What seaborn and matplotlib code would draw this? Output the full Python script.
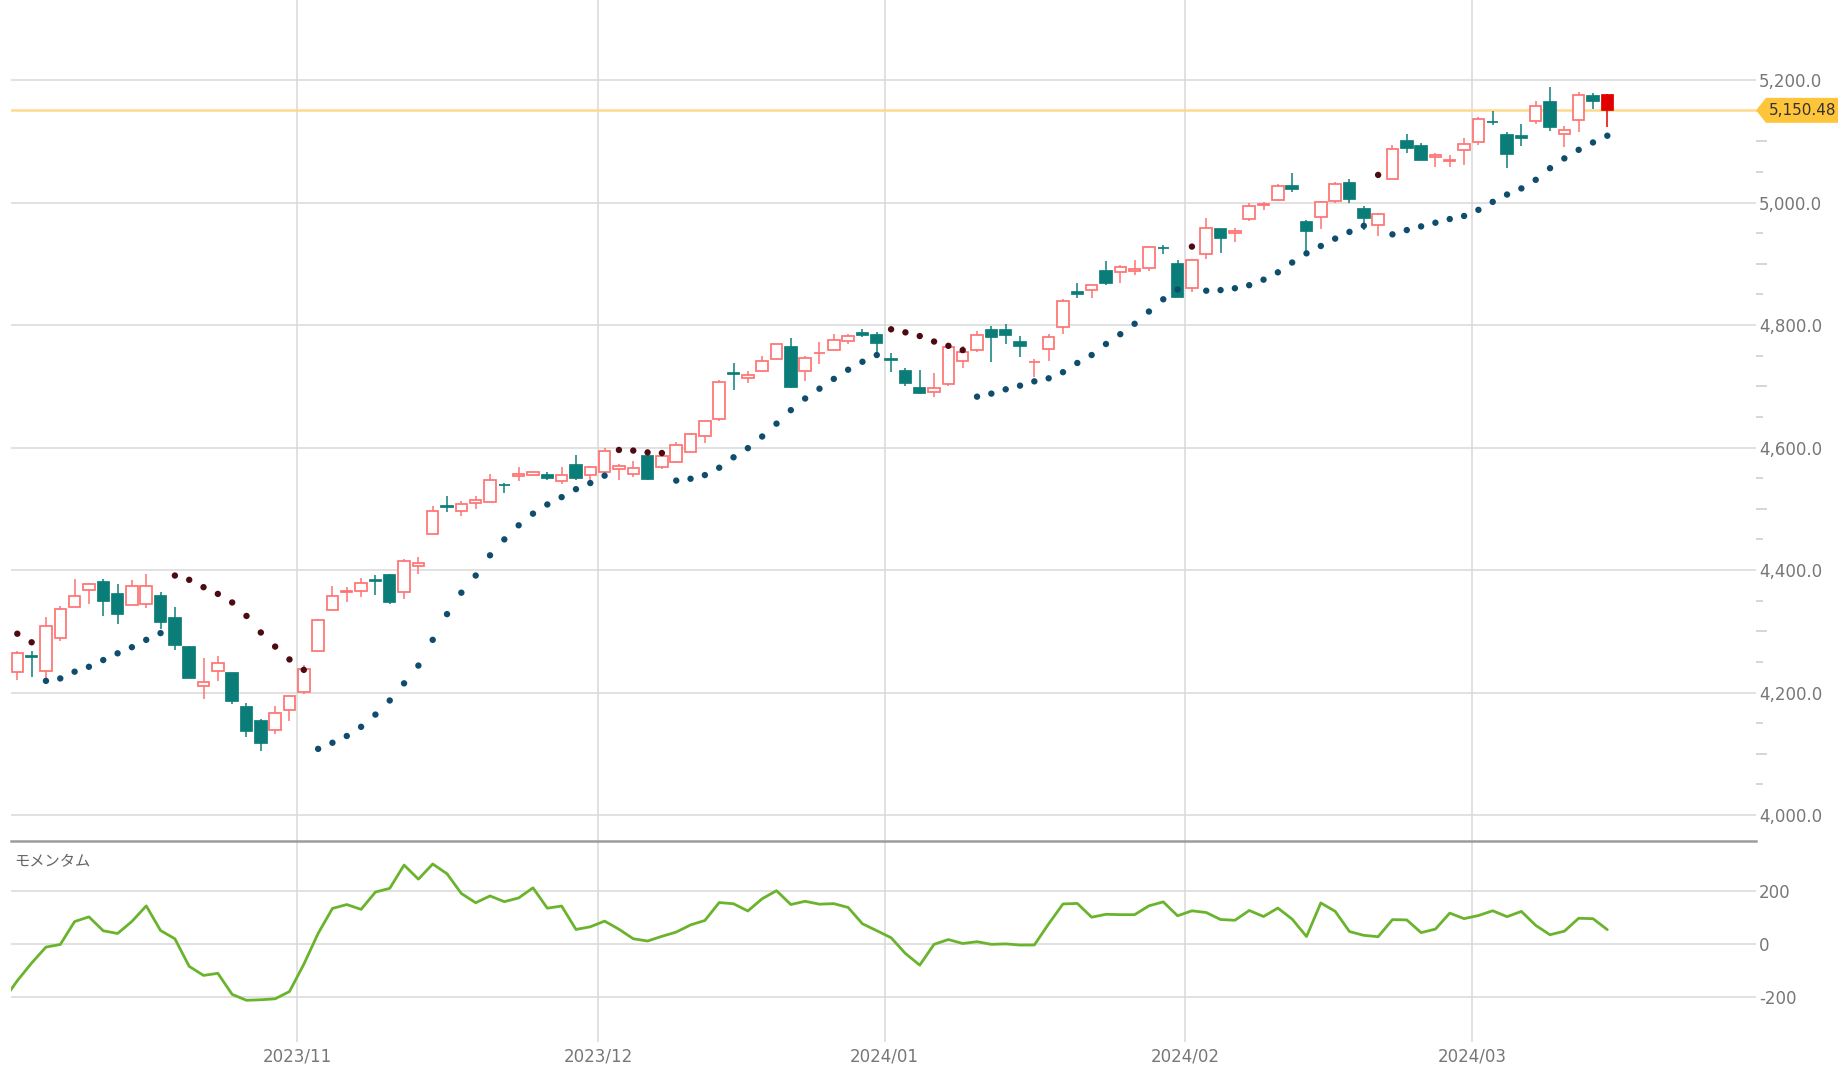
import numpy as np
import pandas as pd
import matplotlib
matplotlib.use("Agg")
import matplotlib.pyplot as plt
import seaborn as sns
from matplotlib.patches import Polygon
from matplotlib.transforms import blended_transform_factory

# ---------------- data ----------------
dates = [
    "2023-10-04", "2023-10-05", "2023-10-06", "2023-10-09", "2023-10-10", "2023-10-11", "2023-10-12",
    "2023-10-13", "2023-10-16", "2023-10-17", "2023-10-18", "2023-10-19", "2023-10-20", "2023-10-23",
    "2023-10-24", "2023-10-25", "2023-10-26", "2023-10-27", "2023-10-30", "2023-10-31",
    "2023-11-01", "2023-11-02", "2023-11-03", "2023-11-06", "2023-11-07", "2023-11-08", "2023-11-09",
    "2023-11-10", "2023-11-13", "2023-11-14", "2023-11-15", "2023-11-16", "2023-11-17", "2023-11-20",
    "2023-11-21", "2023-11-22", "2023-11-24", "2023-11-27", "2023-11-28", "2023-11-29", "2023-11-30",
    "2023-12-01", "2023-12-04", "2023-12-05", "2023-12-06", "2023-12-07", "2023-12-08", "2023-12-11",
    "2023-12-12", "2023-12-13", "2023-12-14", "2023-12-15", "2023-12-18", "2023-12-19", "2023-12-20",
    "2023-12-21", "2023-12-22", "2023-12-26", "2023-12-27", "2023-12-28", "2023-12-29",
    "2024-01-02", "2024-01-03", "2024-01-04", "2024-01-05", "2024-01-08", "2024-01-09", "2024-01-10",
    "2024-01-11", "2024-01-12", "2024-01-16", "2024-01-17", "2024-01-18", "2024-01-19", "2024-01-22",
    "2024-01-23", "2024-01-24", "2024-01-25", "2024-01-26", "2024-01-29", "2024-01-30", "2024-01-31",
    "2024-02-01", "2024-02-02", "2024-02-05", "2024-02-06", "2024-02-07", "2024-02-08", "2024-02-09",
    "2024-02-12", "2024-02-13", "2024-02-14", "2024-02-15", "2024-02-16", "2024-02-20", "2024-02-21",
    "2024-02-22", "2024-02-23", "2024-02-26", "2024-02-27", "2024-02-28", "2024-02-29",
    "2024-03-01", "2024-03-04", "2024-03-05", "2024-03-06", "2024-03-07", "2024-03-08", "2024-03-11",
    "2024-03-12", "2024-03-13", "2024-03-14",
]

opens = [
    4233.8, 4259.3, 4234.8, 4289.0, 4339.8, 4366.6, 4380.9, 4360.5, 4342.4, 4345.2,
    4357.4, 4321.4, 4273.9, 4210.4, 4235.8, 4232.4, 4176.0, 4152.9, 4139.4, 4171.3,
    4201.3, 4268.3, 4334.2, 4364.3, 4366.2, 4384.4, 4391.4, 4364.1, 4406.7, 4459.0,
    4505.3, 4497.1, 4509.6, 4511.7, 4538.8, 4553.0, 4555.8, 4554.9, 4545.6, 4571.8,
    4554.9, 4559.4, 4564.4, 4557.3, 4586.2, 4568.8, 4576.2, 4593.4, 4618.3, 4646.2,
    4721.0, 4714.2, 4725.6, 4743.7, 4764.7, 4724.3, 4753.9, 4758.9, 4773.5, 4786.4,
    4782.9, 4745.2, 4725.1, 4697.4, 4690.6, 4703.7, 4741.9, 4759.9, 4792.1, 4791.2,
    4772.4, 4739.1, 4760.1, 4796.3, 4853.4, 4856.8, 4888.6, 4886.7, 4888.9, 4893.0,
    4925.9, 4899.2, 4861.1, 4916.1, 4957.2, 4950.2, 4973.1, 4995.2, 5004.2, 5026.8,
    4967.9, 4976.4, 5003.1, 5031.1, 4989.3, 4963.0, 5038.8, 5100.9, 5093.0, 5074.6,
    5067.2, 5085.4, 5098.5, 5131.0, 5110.5, 5108.0, 5132.4, 5164.5, 5112.0, 5134.3,
    5173.5, 5175.1,
]
highs = [
    4268.5, 4267.1, 4324.1, 4341.7, 4385.5, 4378.6, 4385.9, 4377.1, 4383.3, 4393.6,
    4364.2, 4339.5, 4276.6, 4255.8, 4259.4, 4232.4, 4183.6, 4156.7, 4177.5, 4194.0,
    4245.6, 4319.7, 4374.0, 4372.2, 4386.3, 4391.2, 4393.4, 4418.0, 4421.8, 4504.1,
    4521.2, 4512.0, 4520.1, 4557.1, 4542.1, 4568.4, 4560.3, 4560.5, 4568.1, 4587.6,
    4569.9, 4599.4, 4572.4, 4578.6, 4590.7, 4590.9, 4609.2, 4623.7, 4643.9, 4709.7,
    4738.6, 4725.5, 4749.5, 4768.7, 4778.0, 4748.7, 4772.9, 4784.7, 4785.4, 4793.3,
    4788.4, 4754.3, 4729.3, 4726.8, 4721.5, 4764.5, 4765.5, 4790.8, 4798.5, 4802.4,
    4782.3, 4744.2, 4785.8, 4842.1, 4868.4, 4866.0, 4903.7, 4898.2, 4906.7, 4929.3,
    4931.1, 4906.8, 4907.0, 4975.3, 4957.2, 4957.8, 4999.9, 5000.4, 5030.1, 5048.4,
    4971.3, 5002.5, 5032.7, 5038.7, 4993.7, 4983.2, 5094.4, 5111.1, 5097.7, 5080.7,
    5077.4, 5105.0, 5140.3, 5149.7, 5114.5, 5128.0, 5165.6, 5189.3, 5124.7, 5179.9,
    5179.1, 5176.9,
]
lows = [
    4220.5, 4225.9, 4219.6, 4283.8, 4339.6, 4345.3, 4325.4, 4312.0, 4342.4, 4337.5,
    4303.8, 4269.7, 4223.0, 4189.2, 4219.4, 4181.4, 4127.9, 4103.8, 4132.9, 4153.1,
    4197.7, 4268.3, 4334.2, 4347.5, 4355.4, 4359.8, 4343.9, 4353.3, 4393.8, 4459.0,
    4495.3, 4487.8, 4499.7, 4510.4, 4525.5, 4545.7, 4552.8, 4546.3, 4540.5, 4547.2,
    4537.2, 4554.7, 4546.7, 4551.7, 4546.5, 4565.2, 4574.1, 4593.4, 4608.1, 4643.2,
    4694.3, 4704.7, 4725.6, 4743.7, 4697.8, 4708.4, 4736.8, 4758.9, 4768.9, 4781.0,
    4752.0, 4722.7, 4699.7, 4687.5, 4682.1, 4699.8, 4730.4, 4756.2, 4739.6, 4769.0,
    4747.1, 4714.8, 4740.6, 4785.9, 4844.1, 4844.4, 4865.9, 4869.3, 4881.5, 4887.4,
    4916.5, 4845.2, 4853.5, 4908.0, 4918.1, 4934.9, 4969.1, 4987.1, 5001.8, 5016.7,
    4920.3, 4956.4, 4999.4, 4999.5, 4955.0, 4946.0, 5038.8, 5081.5, 5068.9, 5057.3,
    5058.4, 5061.9, 5094.5, 5127.2, 5056.8, 5092.2, 5128.2, 5117.5, 5091.1, 5114.5,
    5151.9, 5123.3,
]
closes = [
    4263.75, 4258.19, 4308.50, 4335.66, 4358.24, 4376.95, 4349.61, 4327.78, 4373.63, 4373.20,
    4314.60, 4278.00, 4224.16, 4217.04, 4247.68, 4186.77, 4137.23, 4117.37, 4166.82, 4193.80,
    4237.86, 4317.78, 4358.34, 4365.98, 4378.38, 4382.78, 4347.35, 4415.24, 4411.55, 4495.70,
    4502.88, 4508.24, 4514.02, 4547.38, 4538.19, 4556.62, 4559.34, 4550.43, 4554.89, 4550.58,
    4567.80, 4594.63, 4569.78, 4567.18, 4549.34, 4585.59, 4604.37, 4622.44, 4643.70, 4707.09,
    4719.55, 4719.19, 4740.56, 4768.37, 4698.35, 4746.75, 4754.63, 4774.75, 4781.58, 4783.35,
    4769.83, 4742.83, 4704.81, 4688.68, 4697.24, 4763.54, 4756.50, 4783.45, 4780.24, 4783.83,
    4765.98, 4739.21, 4780.94, 4839.81, 4850.43, 4864.60, 4868.55, 4894.16, 4890.97, 4927.93,
    4924.97, 4845.65, 4906.19, 4958.61, 4942.81, 4954.23, 4995.06, 4997.91, 5026.61, 5021.84,
    4953.17, 5000.62, 5029.73, 5005.57, 4975.51, 4981.80, 5087.03, 5088.80, 5069.53, 5078.18,
    5069.76, 5096.27, 5137.08, 5130.95, 5078.65, 5104.76, 5157.36, 5123.69, 5117.94, 5175.27,
    5165.31, 5150.48,
]

# Parabolic SAR dots, D = above price (down), U = below price (up)
sar = [
    4296, 4282, 4219, 4223, 4234, 4242, 4253, 4264, 4274, 4286,
    4297, 4391, 4384, 4372, 4361, 4347, 4325, 4298, 4275, 4254,
    4237, 4108, 4118, 4129, 4144, 4164, 4187, 4215, 4244, 4286,
    4328, 4363, 4391, 4424, 4450, 4473, 4492, 4507, 4519, 4532,
    4542, 4554, 4596, 4595, 4592, 4591, 4546, 4549, 4555, 4567,
    4584, 4599, 4618, 4639, 4661, 4680, 4696, 4712, 4727, 4740,
    4751, 4793, 4788, 4782, 4773, 4766, 4759, 4683, 4688, 4695,
    4701, 4708, 4713, 4723, 4738, 4751, 4769, 4785, 4802, 4822,
    4842, 4858, 4928, 4856, 4857, 4860, 4865, 4874, 4886, 4902,
    4917, 4929, 4941, 4952, 4962, 5045, 4948, 4955, 4961, 4967,
    4973, 4978, 4988, 5001, 5013, 5023, 5037, 5056, 5072, 5086,
    5098, 5109,
]
sar_side = list(
    "DD" "UUUUUUUUU" "DDDDDDDDDD" "UUUUUUUUUUUUUUUUUUUUU" "DDDD" "UUUUUUUUUUUUUUU"
    "DDDDDD" "UUUUUUUUUUUUUUU" "D" "UUUUUUUUUUUU" "D" "UUUUUUUUUUUUUUUU"
)

# 10-day momentum, first value belongs to the session before the first visible candle
momentum = [
    -214.5,
    -138.5, -71.8, -11.6, -1.8, 84.7, 102.4, 49.9, 39.7, 85.2, 143.8,
    50.9, 19.8, -84.3, -118.6, -110.6, -190.2, -212.4, -210.4, -206.8, -179.4,
    -76.7, 39.8, 134.2, 148.9, 130.7, 196.0, 210.1, 297.9, 244.7, 301.9,
    265.0, 190.5, 155.7, 181.4, 159.8, 173.8, 212.0, 135.2, 143.3, 54.9,
    64.9, 86.4, 55.8, 19.8, 11.2, 29.0, 45.0, 72.0, 88.8, 156.5,
    151.8, 124.6, 170.8, 201.2, 149.0, 161.2, 150.3, 152.3, 137.9, 76.3,
    50.3, 23.6, -35.8, -79.7, -1.1, 16.8, 1.9, 8.7, -1.3, 0.5,
    -3.9, -3.6, 76.1, 151.1, 153.2, 101.1, 112.1, 110.7, 110.7, 144.1,
    159.0, 106.4, 125.3, 118.8, 92.4, 89.6, 126.5, 103.8, 135.6, 93.9,
    28.2, 155.0, 123.5, 47.0, 32.7, 27.6, 92.0, 90.9, 42.9, 56.3,
    116.6, 95.7, 107.4, 125.4, 103.1, 123.0, 70.3, 34.9, 48.4, 97.1,
    95.6, 54.2,
]

month_labels = ["2023/11", "2023/12", "2024/01", "2024/02", "2024/03"]
price_ticks = [4000, 4200, 4400, 4600, 4800, 5000, 5200]
mom_ticks = [-200, 0, 200]
last_price = 5150.48
momentum_title = "モメンタム"

# ---------------- styling ----------------
W, H = 1845, 1068
UP = "#ff7272"
DOWN = "#0b7d78"
LAST = "#e00000"
SAR_D = "#4c0b12"
SAR_U = "#0f4d6c"
GRID = "#d9d9d9"
TXT = "#777777"
MOM = "#6ab42d"

sns.set_theme(style="white")
plt.rcParams["font.family"] = ["DejaVu Sans", "Noto Sans CJK JP"]

fig = plt.figure(figsize=(W / 100, H / 100), dpi=100)
left_px, right_px = 11, 1756
ax = fig.add_axes([left_px / W, 1 - 841 / H, (right_px - left_px) / W, 841 / H])
axm = fig.add_axes([left_px / W, 1 - 1042 / H, (right_px - left_px) / W, 201 / H], sharex=ax)

n = len(closes)
df = pd.DataFrame({"date": pd.to_datetime(dates), "open": opens, "high": highs,
                   "low": lows, "close": closes, "sar": sar, "side": sar_side})
df["x"] = np.arange(n)
df["top"] = df[["open", "close"]].max(axis=1)
df["bot"] = df[["open", "close"]].min(axis=1)
df["h"] = (df["top"] - df["bot"]).clip(lower=0.01)
is_last = df["x"] == n - 1
up = (df["close"] >= df["open"]) & ~is_last
down = (df["close"] < df["open"]) & ~is_last

# month boundary positions (gridlines sit just before the first session of the month)
month_first = df.groupby(df["date"].dt.to_period("M"))["x"].min().iloc[1:].to_numpy()
month_pos = month_first - 0.45

# ---- candles ----
for mask, col in [(up, UP), (down, DOWN), (is_last, LAST)]:
    d = df[mask]
    ax.vlines(d["x"], d["low"], d["high"], color=col, lw=1.1, zorder=3)
d = df[up]
ax.bar(d["x"], d["h"], bottom=d["bot"], width=0.8, facecolor="white",
       edgecolor=UP, linewidth=1.25, zorder=4)
d = df[down]
ax.bar(d["x"], d["h"], bottom=d["bot"], width=0.8, facecolor=DOWN,
       edgecolor=DOWN, linewidth=1.25, zorder=4)
d = df[is_last]
ax.bar(d["x"], d["h"], bottom=d["bot"], width=0.8, facecolor=LAST,
       edgecolor=LAST, linewidth=1.25, zorder=4)

# ---- SAR dots ----
sns.scatterplot(data=df, x="x", y="sar", hue="side", palette={"D": SAR_D, "U": SAR_U},
                s=21, linewidth=0, legend=False, ax=ax, zorder=5)

# ---- last price line ----
ax.axhline(last_price, color="#ffd98e", lw=1.8, zorder=2)

ax.set_xlim(-0.44, 121.38)
ax.set_ylim(3957.6, 5330.6)
ax.set_xlabel("")
ax.set_ylabel("")
ax.yaxis.tick_right()
ax.set_yticks(price_ticks)
ax.set_yticklabels([f"{v:,.1f}" for v in price_ticks])
ax.tick_params(axis="y", length=0, pad=2, labelsize=12, labelcolor=TXT)
ax.set_xticks(month_pos)
ax.tick_params(axis="x", length=0, labelbottom=False)
ax.grid(True, color=GRID, lw=1.1)
for s in ax.spines.values():
    s.set_visible(False)

# minor dashes on the price scale
trans = blended_transform_factory(ax.transAxes, ax.transData)
axw = right_px - left_px
for lvl in range(4050, 5200, 50):
    if lvl % 200 == 0:
        continue
    ln = 11 if lvl % 100 == 0 else 6.5
    ax.plot([1.0, 1.0 + ln / axw], [lvl, lvl], transform=trans, color="#cfcfcf",
            lw=1.2, clip_on=False, solid_capstyle="butt")

# last price tag
hh = 12.5 / 0.6125
tag = Polygon([(1.0, last_price), (1 + 10 / axw, last_price + hh), (1 + 82 / axw, last_price + hh),
               (1 + 82 / axw, last_price - hh), (1 + 10 / axw, last_price - hh)],
              closed=True, transform=trans, facecolor="#ffc53a", edgecolor="none",
              clip_on=False, zorder=6)
ax.add_patch(tag)
ax.text(1 + 47 / axw, last_price, f"{last_price:,.2f}", transform=trans, ha="center",
        va="center", fontsize=11, color="#333333", zorder=7, clip_on=False)

# ---- momentum ----
mom_x = np.arange(-1, n)
sns.lineplot(x=mom_x, y=momentum, ax=axm, color=MOM, lw=2.0, zorder=3)
axm.set_ylim(-369.8, 388.7)
axm.yaxis.tick_right()
axm.set_yticks(mom_ticks)
axm.set_yticklabels([str(v) for v in mom_ticks])
axm.tick_params(axis="y", length=0, pad=2, labelsize=12, labelcolor=TXT)
axm.set_xticks(month_pos)
axm.set_xticklabels(month_labels)
axm.tick_params(axis="x", length=0, pad=4, labelsize=12, labelcolor=TXT)
axm.grid(True, color=GRID, lw=1.1)
axm.set_xlabel("")
axm.set_ylabel("")
for k, s in axm.spines.items():
    s.set_visible(k == "top")
axm.spines["top"].set_color("#9c9c9c")
axm.spines["top"].set_linewidth(1.8)
axm.text(0.002, 0.895, momentum_title, transform=axm.transAxes, ha="left", va="center",
         fontsize=11, color="#666666", family=["Noto Sans CJK JP", "DejaVu Sans"])

fig.savefig("out.png", dpi=100, facecolor="white")
